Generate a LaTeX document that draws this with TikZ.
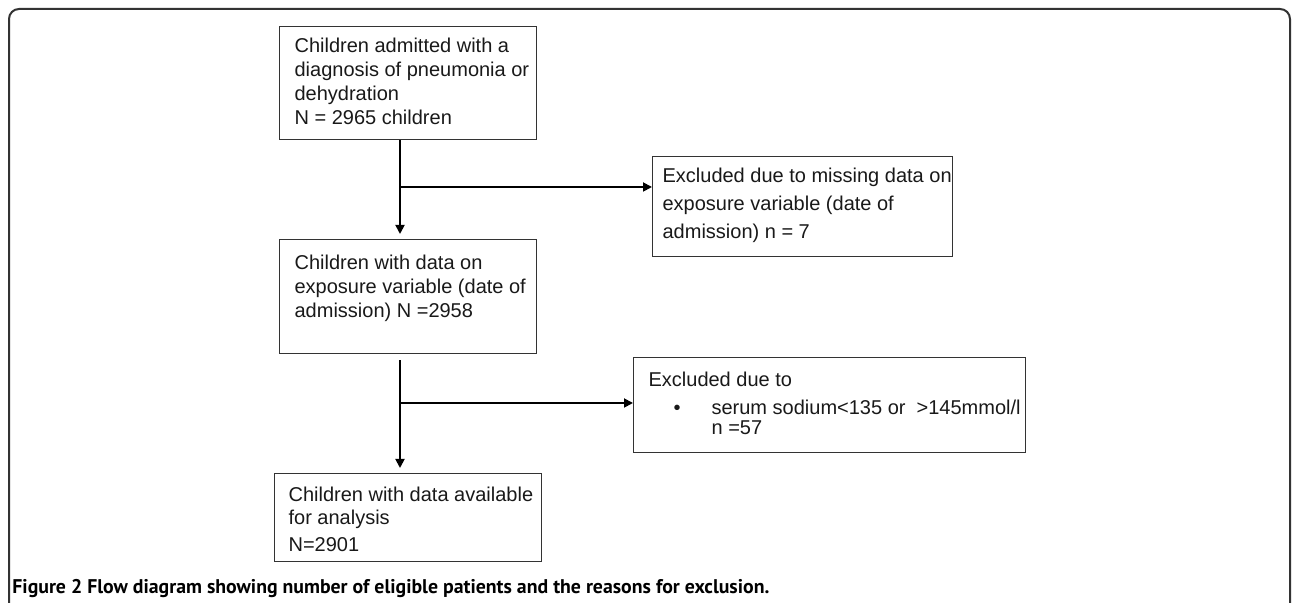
\documentclass[tikz,border=0pt]{standalone}
\usepackage{fontspec}
\setmainfont{Liberation Sans}
\newfontfamily\capfont{PT Sans}
\usepackage{tikz}
\usetikzlibrary{arrows.meta, positioning}

\newcommand{\flowlines}[2]{\makebox[#1][l]{\begin{tabular}[t]{@{}l@{}}#2\end{tabular}}}

\tikzset{
  flowbox/.style={draw=black!80, line width=0.6pt, anchor=north west,
    inner xsep=7.5pt, text=black!90, font=\fontsize{10}{12}\selectfont, text height=7.2pt},
  flowarrow/.style={line width=0.9pt, -{Triangle[length=4.5pt, width=4.5pt]}},
}

\begin{document}
\begin{tikzpicture}[x=0.5pt, y=-0.5pt]
        \useasboundingbox (0,0) rectangle (1292,603);
        \draw[black!80, line width=1pt, rounded corners=5pt] (9,603) -- (9,9) -- (1290,9) -- (1290,603);

        \node[flowbox, inner ysep=6pt, text depth=37.3pt] (adm) at (279,26)
            {\flowlines{113.5pt}{Children admitted with a\\ diagnosis of pneumonia or\\ dehydration\\ N = 2965 children}};
        \node[flowbox, inner xsep=5pt, inner ysep=6pt, text depth=30.8pt] (miss) at (652,156)
            {\flowlines{140pt}{Excluded due to missing data on\\[2pt] exposure variable (date of\\[2pt] admission) n = 7}};
        \node[flowbox, inner ysep=8pt, text depth=33.8pt] (dat) at (279,239)
            {\flowlines{113.5pt}{Children with data on\\ exposure variable (date of\\ admission) N =2958}};
        \node[flowbox, inner ysep=7.5pt, text depth=25.3pt] (sod) at (633,357)
            {\flowlines{181pt}{Excluded due to\\[2pt] \makebox[31.5pt][l]{\hspace{12.5pt}\textbullet}serum sodium<135 or\ \ >145mmol/l\\[-2pt] \hspace*{31.5pt}n =57}};
        \node[flowbox, inner xsep=7pt, inner ysep=7pt, text depth=22.8pt] (ana) at (274,473)
            {\flowlines{119.5pt}{Children with data available\\[-0.5pt] for analysis\\[1.5pt] N=2901}};

        \coordinate (j1) at (400,187);
        \coordinate (j2) at (400,403);
        \draw[flowarrow, shorten >=2.5pt] (adm.south -| j1) -- (dat.north -| j1);
        \draw[flowarrow] (j1) -- (miss.west |- j1);
        \draw[flowarrow, shorten <=3pt, shorten >=2.5pt] (dat.south -| j2) -- (ana.north -| j2);
        \draw[flowarrow] (j2) -- (sod.west |- j2);

        \node[anchor=base west, inner sep=0pt, font=\capfont\bfseries\fontsize{9.9}{11}\selectfont] (cap) at (12,594)
            {Figure 2 Flow diagram showing number of eligible patients and the reasons for exclusion.};
\end{tikzpicture}
\end{document}
